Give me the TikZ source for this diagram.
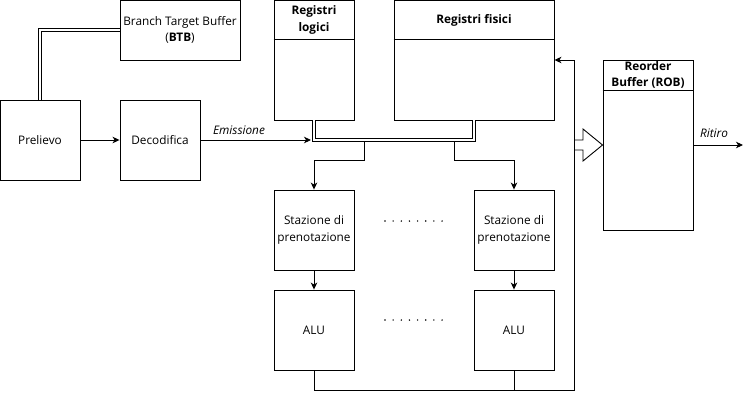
\documentclass[tikz,border=0pt]{standalone}
\usepackage{fontspec}
\setmainfont{Open Sans}
\usetikzlibrary{arrows.meta,calc}
\begin{document}
\begin{tikzpicture}[x=1pt,y=-1pt,
  txt/.style={font=\fontsize{11.8}{16.5}\selectfont, align=center, inner sep=0pt},
  box/.style={txt, draw, line width=0.9pt, minimum width=80pt, minimum height=80pt},
  arr/.style={-{Stealth[length=7pt,width=6.5pt,inset=2pt]}, line width=0.9pt},
  ln/.style={line width=0.9pt},
  dbl/.style={double, double distance=2.6pt, line width=0.9pt},
  dot/.style={fill, circle, inner sep=0pt, minimum size=1.6pt},
  hdr/.style={txt, font=\fontsize{11.8}{16.5}\selectfont\bfseries},
  lbl/.style={txt, font=\fontsize{11.8}{16.5}\selectfont\itshape}]
\useasboundingbox (0,0) rectangle (753,400);

% boxes
\node[box, minimum width=120pt, minimum height=60pt] (btb) at (180,30) {Branch Target Buffer\\(\textbf{BTB})};
\node[box] (pre) at (40,140) {Prelievo};
\node[box] (dec) at (160,140) {Decodifica};

\node[box, minimum height=120pt] (rl) at (314,60) {};
\node[hdr] (rlh) at (314,20) {Registri\\logici};
\draw[ln] ($(rl.north west)+(0,40)$) -- ($(rl.north east)+(0,40)$);

\node[box, minimum width=160pt, minimum height=120pt] (rf) at (474,60) {};
\node[hdr] (rfh) at (474,20) {Registri fisici};
\draw[ln] ($(rf.north west)+(0,40)$) -- ($(rf.north east)+(0,40)$);

\node[box] (rs1) at (314,230) {Stazione di\\prenotazione};
\node[box] (rs2) at (514,230) {Stazione di\\prenotazione};
\node[box] (alu1) at (314,330) {ALU};
\node[box] (alu2) at (514,330) {ALU};

\node[box, minimum width=90pt, minimum height=170pt] (rob) at (648,145) {};
\node[hdr] (robh) at (648,75) {Reorder\\Buffer (ROB)};
\draw[ln] ($(rob.north west)+(0,31)$) -- ($(rob.north east)+(0,31)$);

% Prelievo - BTB double link
\draw[dbl] (pre.north) -- (40,30) -- (btb.west);
\draw[arr] (pre) -- (dec);

% Emissione
\coordinate (em) at (311,140);
\draw[arr] (dec.east) -- (em);
\node[lbl] (eml) at (239,130) {Emissione};

% register bus
\draw[dbl] (rl.south) -- (314,140) -- (474,140) -- (rf.south);
\coordinate (b1) at (364,141.8);
\coordinate (b2) at (454,141.8);
\draw[arr] (b1) -- (364,160) -- (314,160) -- (rs1.north);
\draw[arr] (b2) -- (454,160) -- (514,160) -- (rs2.north);

\draw[arr] (rs1) -- (alu1);
\draw[arr] (rs2) -- (alu2);

% dots
\foreach \i in {0,...,7} {
  \node[dot] (da\i) at (385+8.15*\i,221) {};
  \node[dot] (db\i) at (385+8.15*\i,320) {};
}

% feedback
\draw[arr] (alu1.south) -- (314,390) -- (574,390) -- (574,60) -- (rf.east);
\draw[ln] (alu2.south) -- (514,390);

% hollow arrow
\draw[ln, line join=miter] (575,140) -- (583,140) -- (583,129) -- (rob.west |- 0,145) -- (583,161) -- (583,150) -- (575,150);

% Ritiro
\coordinate (rt) at (743,145);
\draw[arr] (rob.east |- 0,145) -- (rt);
\node[lbl] (rtl) at (714,133) {Ritiro};
\end{tikzpicture}
\end{document}
